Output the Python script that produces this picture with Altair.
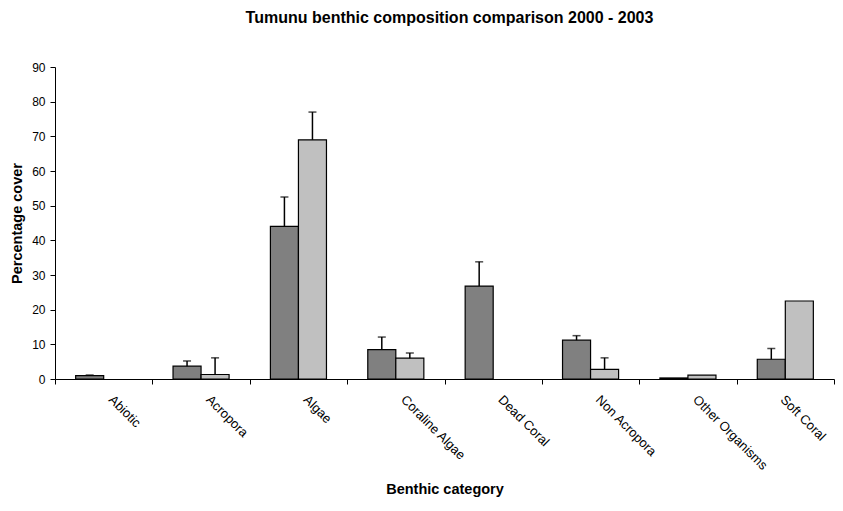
import altair as alt
import pandas as pd

categories = ["Abiotic", "Acropora", "Algae", "Coraline Algae", "Dead Coral",
              "Non Acropora", "Other Organisms", "Soft Coral"]
years = ["2000", "2003"]
cover_2000 = [1.0, 3.7, 44.0, 8.5, 26.8, 11.2, 0.3, 5.7]
err_2000 = [0.15, 1.5, 8.5, 3.6, 7.0, 1.3, None, 3.1]
cover_2003 = [0.0, 1.3, 69.0, 6.0, 0.0, 2.8, 1.1, 22.5]
err_2003 = [None, 4.8, 8.0, 1.5, None, 3.3, None, None]
y_ticks = [0, 10, 20, 30, 40, 50, 60, 70, 80, 90]

rows = []
for yr, covers, errs in [("2000", cover_2000, err_2000), ("2003", cover_2003, err_2003)]:
    for c, v, e in zip(categories, covers, errs):
        rows.append({"category": c, "year": yr, "cover": v,
                     "upper": (v + e) if e is not None else None})
df = pd.DataFrame(rows)

FONT = "Liberation Sans"

x_enc = alt.X(
    "category:N", sort=categories,
    scale=alt.Scale(paddingInner=0, paddingOuter=0),
    axis=alt.Axis(title="Benthic category", labelAngle=45, labelAlign="left",
                  labelBaseline="top", tickBand="extent", tickSize=5,
                  labelPadding=9,
                  labelOffset={"expr": "datum.label == 'Soft Coral' ? 1 : 11"},
                  titlePadding=10, labelFontSize=13,
                  titleFontSize=14.5, titleFontWeight="bold"),
)
xoff = alt.XOffset("year:N", sort=years,
                   scale=alt.Scale(paddingInner=0, paddingOuter=0.737))
y_axis = alt.Axis(title="Percentage cover", values=y_ticks, grid=False,
                  tickSize=5, labelPadding=5, titlePadding=7,
                  labelFontSize=12, titleFontSize=14.5, titleFontWeight="bold")
y_scale = alt.Scale(domain=[0, 90], nice=False)

bars = alt.Chart(df).transform_filter("datum.cover > 0").mark_bar(
    stroke="black", strokeWidth=1.2).encode(
    x=x_enc, xOffset=xoff,
    y=alt.Y("cover:Q", scale=y_scale, axis=y_axis),
    fill=alt.Fill("year:N", scale=alt.Scale(domain=years, range=["#808080", "#C0C0C0"]),
                  legend=None),
)

err = alt.Chart(df).transform_filter("isValid(datum.upper)")
stems = err.mark_rule(color="black", strokeWidth=1.5).encode(
    x=x_enc, xOffset=xoff,
    y=alt.Y("cover:Q", scale=y_scale, axis=y_axis), y2="upper:Q")
caps = err.mark_tick(color="black", orient="horizontal", size=8, thickness=1.5).encode(
    x=x_enc, xOffset=xoff,
    y=alt.Y("upper:Q", scale=y_scale, axis=y_axis))

chart = alt.layer(bars, stems, caps).properties(
    width=779, height=312,
    title=alt.Title("Tumunu benthic composition comparison 2000 - 2003",
                    fontSize=16, fontWeight="bold", font=FONT, anchor="middle",
                    offset=35, dx=5),
    autosize=alt.AutoSizeParams(type="none"),
    padding={"left": 47, "top": 59, "right": 1, "bottom": 124},
).configure_view(stroke=None).configure_axis(
    labelFont=FONT, titleFont=FONT, domainColor="black", tickColor="black",
    labelColor="black", titleColor="black",
)

chart.save("out.html", embed_options={"renderer": "svg", "actions": False})
